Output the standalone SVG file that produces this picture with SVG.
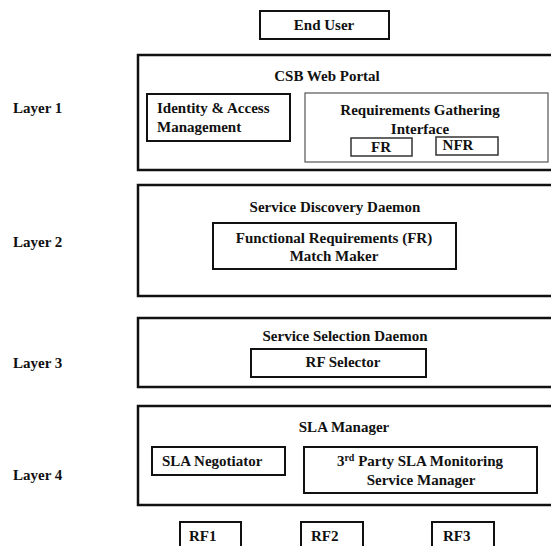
<svg xmlns="http://www.w3.org/2000/svg" width="551" height="546" viewBox="0 0 551 546">
<style>
text{font-family:"Liberation Serif",Tinos,"Times New Roman","DejaVu Serif",serif;font-weight:700;font-size:15px;fill:#111}
.c{text-anchor:middle}
.outer{fill:none;stroke:#111;stroke-width:2.5}
.box{fill:none;stroke:#111;stroke-width:2}
.thin{fill:none;stroke:#555;stroke-width:1.2}
.mid{fill:none;stroke:#333;stroke-width:1.5}
</style>
<rect width="551" height="546" fill="#fff"/>
<g id="labels">
<text x="13" y="113">Layer 1</text>
<text x="13" y="247">Layer 2</text>
<text x="13" y="368">Layer 3</text>
<text x="13" y="480">Layer 4</text>
</g>
<g id="end-user"><rect class="box" x="260" y="11" width="129" height="28"/><text class="c" x="324" y="30">End User</text></g>
<g id="layer1">
<rect class="outer" x="138" y="55" width="420" height="115"/>
<text class="c" x="327" y="81">CSB Web Portal</text>
<g id="iam"><rect class="box" x="147" y="94" width="143" height="47"/><text x="157" y="113">Identity &amp; Access</text><text x="157" y="132">Management</text></g>
<g id="rgi"><rect class="thin" x="305" y="93" width="243" height="69"/><text class="c" x="420" y="115">Requirements Gathering</text><text class="c" x="420" y="134">Interface</text></g>
<g id="fr"><rect class="mid" x="351" y="138" width="61" height="18"/><text class="c" x="381" y="152">FR</text></g>
<g id="nfr"><rect class="mid" x="436" y="137" width="62" height="18"/><text class="c" x="458" y="150">NFR</text></g>
</g>
<g id="layer2">
<rect class="outer" x="138" y="185" width="420" height="111"/>
<text class="c" x="335" y="212">Service Discovery Daemon</text>
<g id="frmm"><rect class="box" x="213" y="223" width="243" height="46"/><text class="c" x="334" y="243">Functional Requirements (FR)</text><text class="c" x="334" y="261">Match Maker</text></g>
</g>
<g id="layer3">
<rect class="outer" x="138" y="318" width="420" height="69"/>
<text class="c" x="345" y="341">Service Selection Daemon</text>
<g id="rfsel"><rect class="box" x="251" y="349" width="175" height="28"/><text class="c" x="343" y="367">RF Selector</text></g>
</g>
<g id="layer4">
<rect class="outer" x="138" y="406" width="420" height="99"/>
<text class="c" x="344" y="432">SLA Manager</text>
<g id="slaneg"><rect class="box" x="152" y="447" width="133" height="28"/><text x="162" y="466">SLA Negotiator</text></g>
<g id="slamon"><rect class="box" x="304" y="447" width="233" height="46"/><text class="c" x="420" y="466">3<tspan font-size="10" dy="-5">rd</tspan><tspan dy="5"> Party SLA Monitoring</tspan></text><text class="c" x="421" y="485">Service Manager</text></g>
</g>
<g id="rf1"><rect class="box" x="180" y="522" width="61" height="30"/><text x="189" y="541">RF1</text></g>
<g id="rf2"><rect class="box" x="301" y="522" width="62" height="30"/><text x="311" y="541">RF2</text></g>
<g id="rf3"><rect class="box" x="432" y="522" width="62" height="30"/><text x="443" y="541">RF3</text></g>
<g id="connectors"></g>
</svg>
